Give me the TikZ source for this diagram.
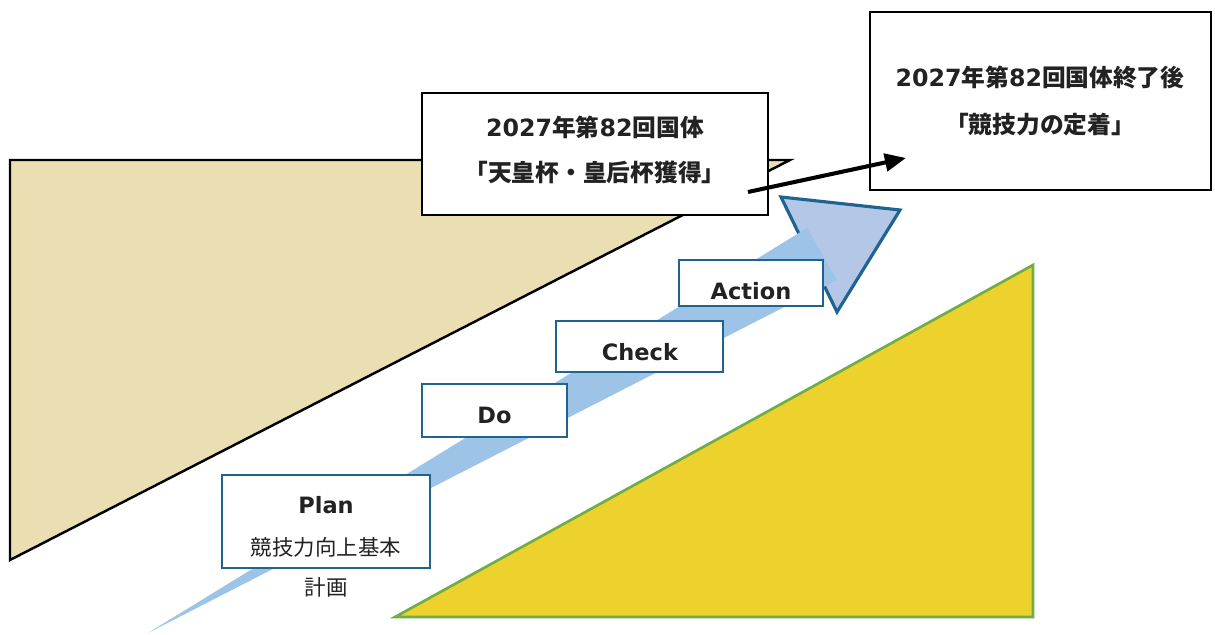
\documentclass[tikz,border=0pt]{standalone}
\usepackage{fontspec}
\newfontfamily\lat{DejaVu Sans}
\newfontfamily\cjk{Noto Sans CJK JP}
\usetikzlibrary{arrows.meta}
\definecolor{tanfill}{HTML}{E9DFB3}
\definecolor{yelfill}{HTML}{EDD22E}
\definecolor{grnline}{HTML}{70AD47}
\definecolor{bandblue}{HTML}{9DC3E6}
\definecolor{headblue}{HTML}{B4C7E7}
\definecolor{darkblue}{HTML}{1F6391}
\definecolor{txt}{HTML}{222222}
\tikzset{
  bbox/.style={draw=black,fill=white,line width=1.5pt,inner sep=0pt},
  pbox/.style={draw=darkblue,fill=white,line width=1.1pt,inner sep=0pt},
  lt/.style={font=\lat\bfseries\fontsize{12.8}{14}\selectfont,text=txt,inner sep=0pt},
  jt/.style={font=\cjk\bfseries\fontsize{13.5}{15}\selectfont,text=txt,inner sep=0pt},
  jr/.style={font=\cjk\fontsize{12.2}{14}\selectfont,text=txt,inner sep=0pt},
}
\begin{document}
\begin{tikzpicture}[x=0.02cm,y=-0.02cm]
\useasboundingbox (0,0) rectangle (1215,635);
% background triangles
\filldraw[fill=tanfill,draw=black,line width=1.4pt] (10,160) -- (790,160) -- (10,560) -- cycle;
\filldraw[fill=yelfill,draw=grnline,line width=1.5pt] (395,617) -- (1033,617) -- (1033,265) -- cycle;
% arrow head and band
\filldraw[fill=headblue,draw=darkblue,line width=1.8pt] (781,197) -- (900,210) -- (837,312) -- cycle;
\fill[bandblue] (148,633) -- (807,228) -- (837,280) -- cycle;
% black boxes
\node[bbox,minimum width=6.92cm,minimum height=2.44cm] (b1) at (595,154) {};
\node[jt] (b1a) at (595,127) {{\lat\bfseries 2027}年第{\lat\bfseries 82}回国体};
\node[jt] (b1b) at (595,172) {「天皇杯・皇后杯獲得」};
\node[bbox,minimum width=6.82cm,minimum height=3.56cm] (b2) at (1040.5,101) {};
\node[jt] (b2a) at (1040,77) {{\lat\bfseries 2027}年第{\lat\bfseries 82}回国体終了後};
\node[jt] (b2b) at (1040,125) {「競技力の定着」};
% PDCA boxes
\node[pbox,minimum width=4.16cm,minimum height=1.86cm] (plan) at (326,521.5) {};
\node[lt] (plant) at (326,505) {Plan};
\node[jr] (plans) at (326,547) {競技力向上基本};
\node[jr] (plans2) at (326,587) {計画};
\node[pbox,minimum width=2.9cm,minimum height=1.06cm] (do) at (494.5,410.5) {};
\node[lt] (dot) at (494.5,415) {Do};
\node[pbox,minimum width=3.34cm,minimum height=1.02cm] (check) at (639.5,346.5) {};
\node[lt] (checkt) at (640,352) {Check};
\node[pbox,minimum width=2.88cm,minimum height=0.92cm] (action) at (751,283) {};
\node[lt] (actiont) at (751,291) {Action};
% connector arrow
\coordinate (as) at (748,192);
\coordinate (ae) at (906,158);
\draw[line width=2.3pt,-{Triangle[length=12pt,width=10pt]}] (as) -- (ae);
\end{tikzpicture}
\end{document}
